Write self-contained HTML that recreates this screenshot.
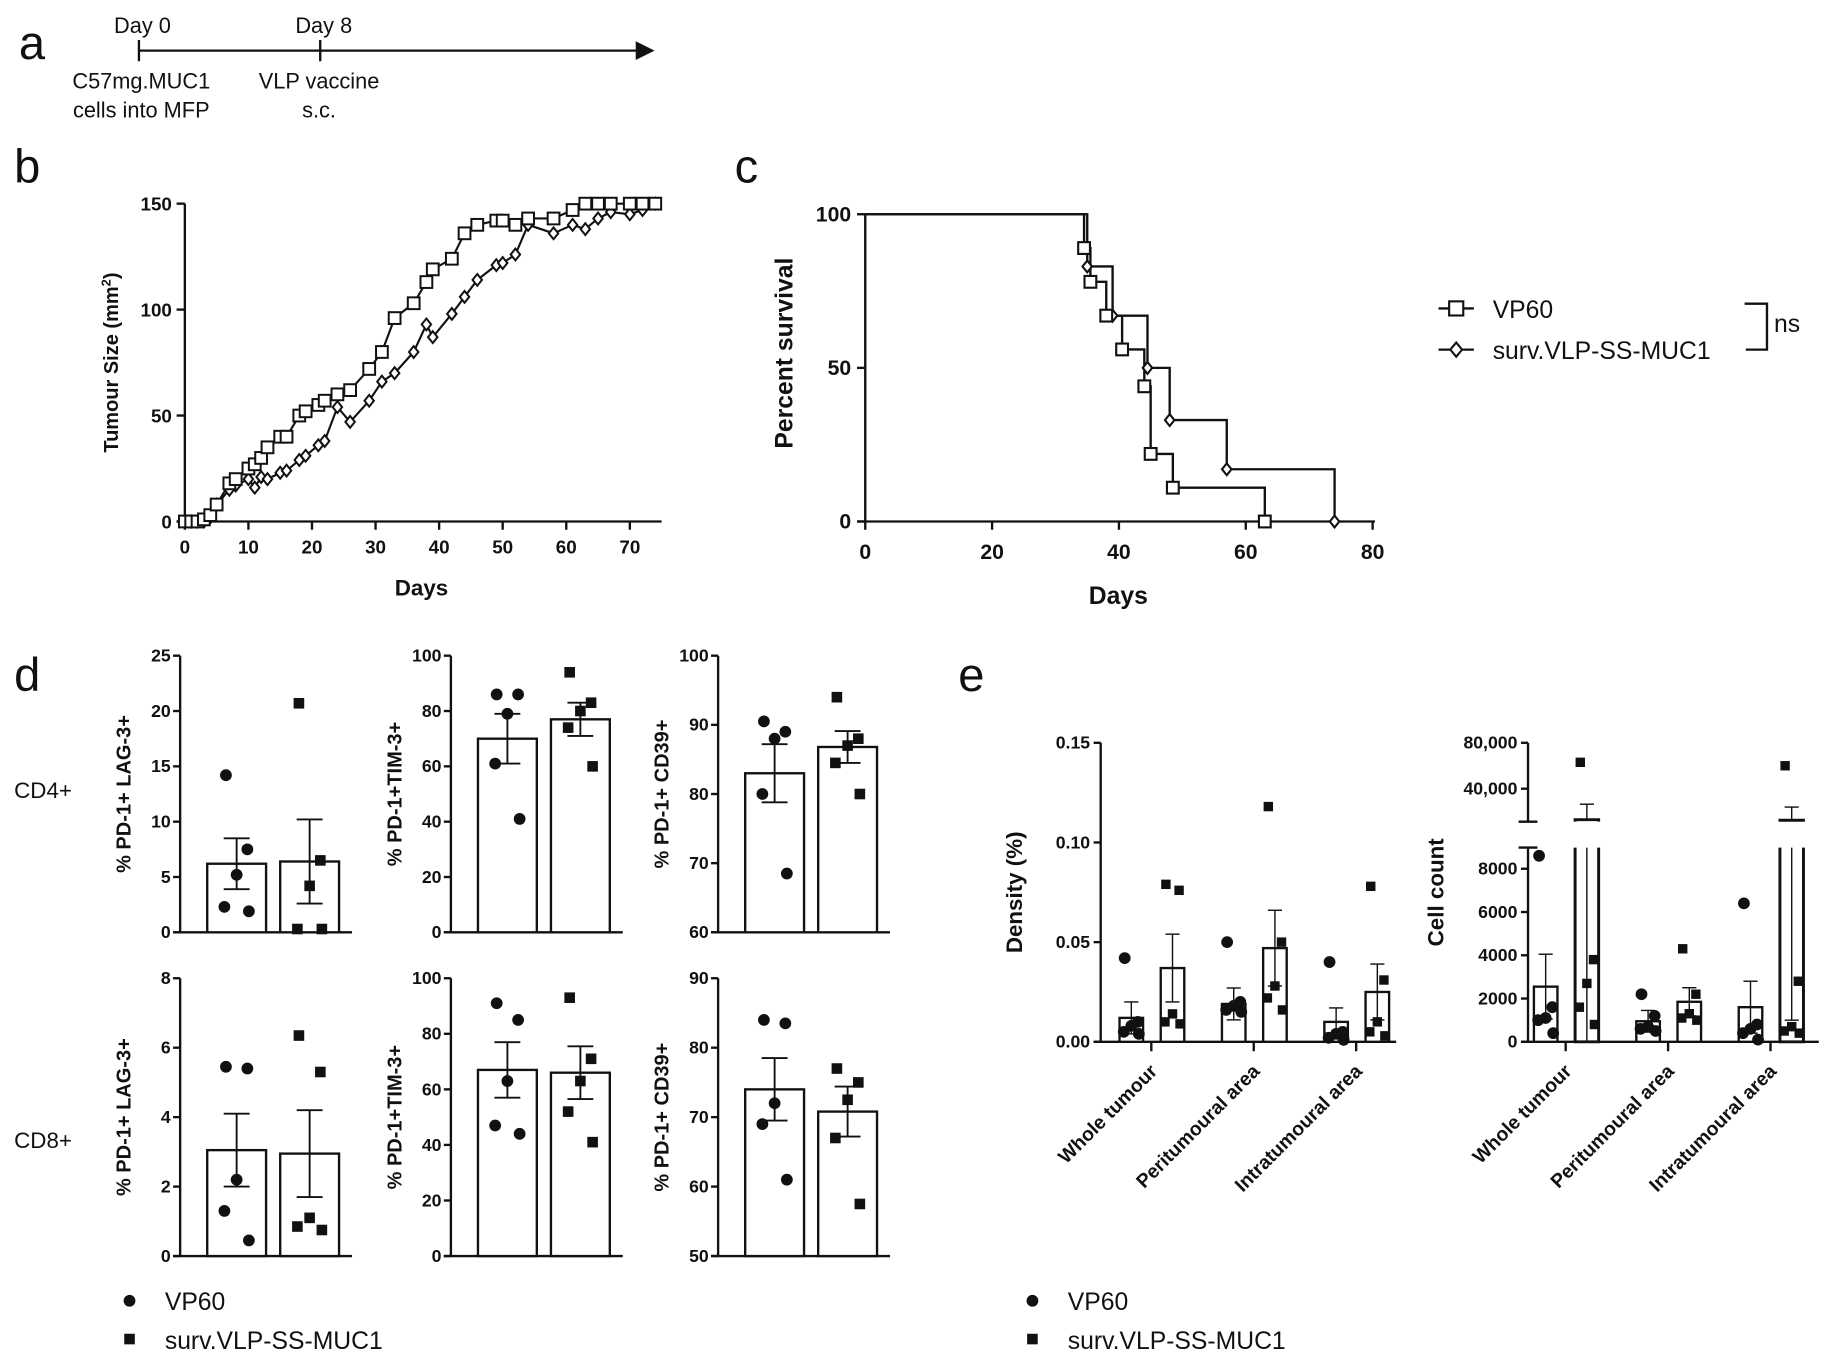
<!DOCTYPE html>
<html><head><meta charset="utf-8"><style>
html,body{margin:0;padding:0;background:#fff}
svg{display:block}
text{font-family:"Liberation Sans",Arial,sans-serif;fill:#111}
</style></head><body>
<svg id="fig" width="1840" height="1362" viewBox="0 0 1563 1157" xmlns="http://www.w3.org/2000/svg">
<g stroke="#111" stroke-width="2">
<line x1="118" y1="43" x2="542" y2="43"/>
<polygon points="540,35 556,43 540,51" fill="#111" stroke="none"/>
<line x1="118" y1="34" x2="118" y2="52"/><line x1="272" y1="34" x2="272" y2="52"/>
</g>
<g font-size="18.5" text-anchor="middle">
<text x="121" y="28">Day 0</text>
<text x="275" y="28">Day 8</text>
<text x="120" y="75">C57mg.MUC1</text>
<text x="120" y="100">cells into MFP</text>
<text x="271" y="75">VLP vaccine</text>
<text x="271" y="100">s.c.</text>
</g>
<g font-size="40">
<text x="16" y="50">a</text>
<text x="12" y="155">b</text>
<text x="624" y="155">c</text>
<text x="12" y="587">d</text>
<text x="814" y="587">e</text>
</g>
<g id="root"></g>
</svg>
<script>
// ---------- data ----------
const growthDays = [0,1,2,3,4,5,7,8,10,11,12,13,15,16,18,19,21,22,24,26,29,31,33,36,38,39,42,44,46,49,50,52,54,58,61,63,65,67,70,72,74];
const growthVP60 = [0,0,0,1,3,8,18,20,25,27,30,35,40,40,50,52,55,57,60,62,72,80,96,103,113,119,124,136,140,142,142,140,143,143,147,150,150,150,150,150,150];
const growthSurv = [0,0,0,0,2,8,15,17,20,16,21,20,23,24,29,31,36,38,54,47,57,66,70,80,93,87,98,106,114,121,122,126,140,136,140,138,143,146,145,147,150];
const growthTicksX = [0,10,20,30,40,50,60,70];
const growthTicksY = [0,50,100,150];

const survTimesVP = [0,34.5,35.5,38,40.5,44,45,48.5,63];
const survValsVP  = [100,89,78,67,56,44,22,11,0];
const survTimesSurv = [0,35,39,44.5,48,57,74];
const survValsSurv  = [100,83,67,50,33,17,0];
const survTicksX = [0,20,40,60,80];
const survTicksY = [0,50,100];

const dTitles = ["% PD-1+ LAG-3+","% PD-1+TIM-3+","% PD-1+ CD39+","% PD-1+ LAG-3+","% PD-1+TIM-3+","% PD-1+ CD39+"];
const dMin = [0,0,60,0,0,50];
const dMax = [25,100,100,8,100,90];
const dStep = [5,20,10,2,20,10];
const dMeanVP = [6.2,70,83,3.05,67,74];
const dSemVP = [2.3,9,4.2,1.05,10,4.5];
const dMeanSurv = [6.4,77,86.8,2.95,66,70.8];
const dSemSurv = [3.8,6,2.3,1.25,9.5,3.6];
const dPtsVP = [[14.2,7.5,5.2,2.3,1.9],[86,86,79,61,41],[90.5,89,88,80,68.5],[5.45,5.4,2.2,1.3,0.45],[91,85,63,47,44],[84,83.5,72,69,61]];
const dPtsSurv = [[20.7,6.5,4.2,0.3,0.3],[94,83,80,74,60],[94,88,87,84.5,80],[6.35,5.3,1.1,0.85,0.75],[93,71,63,52,41],[77,75,72.5,67,57.5]];

const eCats = ["Whole tumour","Peritumoural area","Intratumoural area"];
const densMeanVP = [0.012,0.019,0.010];
const densSemVP = [0.008,0.008,0.007];
const densMeanSurv = [0.037,0.047,0.025];
const densSemSurv = [0.017,0.019,0.014];
const densPtsVP = [[0.042,0.01,0.008,0.005,0.004],[0.050,0.02,0.018,0.016,0.015],[0.040,0.005,0.004,0.002,0.001]];
const densPtsSurv = [[0.079,0.076,0.014,0.01,0.009],[0.118,0.05,0.028,0.022,0.016],[0.078,0.031,0.01,0.005,0.003]];
const densTicks = ["0.00","0.05","0.10","0.15"];

const cntMeanVP = [2550,950,1600];
const cntSemVP = [1500,500,1200];
const cntMeanSurv = [13000,1850,12500];
const cntSemSurv = [13500,650,11500];
const cntPtsVP = [[8600,1600,1100,1000,400],[2200,1200,700,600,500],[6400,800,600,400,100]];
const cntPtsSurv = [[63000,3800,2700,1600,800],[4300,2200,1300,1100,1000],[60000,2800,700,500,400]];
const cntTicksLow = [0,2000,4000,6000,8000];
const cntTicksHigh = [40000,80000];

// ---------- helpers ----------
const NS="http://www.w3.org/2000/svg";
const root=document.getElementById('root');
function mk(tag,attrs,parent,txt){const e=document.createElementNS(NS,tag);for(const k in attrs)e.setAttribute(k,attrs[k]);if(txt!==undefined)e.textContent=txt;(parent||root).appendChild(e);return e;}
function line(x1,y1,x2,y2,p,w){return mk('line',{x1,y1,x2,y2,stroke:'#111','stroke-width':w||2},p);}
const jit=[-7,7,0,-8,8];

// ---------- panel b ----------
(function(){
 const g=mk('g',{});
 
 
 const X=d=>157+d*5.4, Y=v=>443-v*1.8;
 line(157,173,157,443,g);line(150,443,562,443,g);
 growthTicksY.forEach(v=>{line(150,Y(v),157,Y(v),g);const t=mk('text',{x:146,y:Y(v)+6,'text-anchor':'end','font-size':16,'font-weight':'bold'},g,v);});
 growthTicksX.forEach(v=>{line(X(v),443,X(v),450,g);const t=mk('text',{x:X(v),y:470,'text-anchor':'middle','font-size':16,'font-weight':'bold'},g,v);});
 const xt=mk('text',{x:358,y:506,'text-anchor':'middle','font-size':19,'font-weight':'bold'},g,'Days');
 
 const yt=mk('text',{transform:'translate(100,308) rotate(-90)','text-anchor':'middle','font-size':17,'font-weight':'bold'},g);
 
 yt.innerHTML='Tumour Size (mm<tspan dy="-6" font-size="11">2</tspan><tspan dy="6">)</tspan>';
 const ptsA=growthDays.map((d,i)=>X(d)+','+Y(growthVP60[i])).join(' ');
 const ptsB=growthDays.map((d,i)=>X(d)+','+Y(growthSurv[i])).join(' ');
 const l1=mk('polyline',{points:ptsB,fill:'none',stroke:'#111','stroke-width':1.8},g);
 
 const l2=mk('polyline',{points:ptsA,fill:'none',stroke:'#111','stroke-width':1.8},g);
 
 growthDays.forEach((d,i)=>{const x=X(d),y=Y(growthSurv[i]);const m=mk('polygon',{points:`${x},${y-5} ${x+4},${y} ${x},${y+5} ${x-4},${y}`,fill:'#fff',stroke:'#111','stroke-width':1.7},g);});
 growthDays.forEach((d,i)=>{const x=X(d),y=Y(growthVP60[i]);const m=mk('rect',{x:x-5,y:y-5,width:10,height:10,fill:'#fff',stroke:'#111','stroke-width':1.7},g);});
})();

// ---------- panel c ----------
(function(){
 const g=mk('g',{});
 
 
 const X=d=>735+d*5.3875, Y=v=>443-v*2.61;
 line(735,182,735,443,g);line(728,443,1168,443,g);
 survTicksY.forEach(v=>{line(728,Y(v),735,Y(v),g);const t=mk('text',{x:723,y:Y(v)+6,'text-anchor':'end','font-size':18,'font-weight':'bold'},g,v);});
 survTicksX.forEach(v=>{line(X(v),443,X(v),450,g);const t=mk('text',{x:X(v),y:475,'text-anchor':'middle','font-size':18,'font-weight':'bold'},g,v);});
 const xt=mk('text',{x:950,y:513,'text-anchor':'middle','font-size':21,'font-weight':'bold'},g,'Days');
 
 const yt=mk('text',{transform:'translate(673,300) rotate(-90)','text-anchor':'middle','font-size':21,'font-weight':'bold'},g,'Percent survival');
 
 function steps(T,V){let p=`${X(T[0])},${Y(V[0])}`;for(let i=1;i<T.length;i++){p+=` ${X(T[i])},${Y(V[i-1])} ${X(T[i])},${Y(V[i])}`;}return p;}
 const s2=mk('polyline',{points:steps(survTimesSurv,survValsSurv),fill:'none',stroke:'#111','stroke-width':2},g);
 
 const s1=mk('polyline',{points:steps(survTimesVP,survValsVP),fill:'none',stroke:'#111','stroke-width':2},g);
 
 for(let i=1;i<survTimesSurv.length;i++){const x=X(survTimesSurv[i]),y=Y(survValsSurv[i]);const m=mk('polygon',{points:`${x},${y-5} ${x+4},${y} ${x},${y+5} ${x-4},${y}`,fill:'#fff',stroke:'#111','stroke-width':1.8},g);}
 for(let i=1;i<survTimesVP.length;i++){const x=X(survTimesVP[i]),y=Y(survValsVP[i]);const m=mk('rect',{x:x-5,y:y-5,width:10,height:10,fill:'#fff',stroke:'#111','stroke-width':1.8},g);}
 const lg=mk('g',{},g);
 
 line(1222,262,1252,262,lg);mk('rect',{x:1231,y:256,width:12,height:12,fill:'#fff',stroke:'#111','stroke-width':1.8},lg);
 mk('text',{x:1268,y:270,'font-size':21},lg,'VP60');
 line(1222,297,1252,297,lg);mk('polygon',{points:'1237,291 1242,297 1237,303 1232,297',fill:'#fff',stroke:'#111','stroke-width':1.8},lg);
 mk('text',{x:1268,y:305,'font-size':21},lg,'surv.VLP-SS-MUC1');
 mk('polyline',{points:'1482,258 1501,258 1501,297 1483,297',fill:'none',stroke:'#111','stroke-width':2},lg);
 const ns=mk('text',{x:1507,y:282,'font-size':21},lg,'ns');
 
})();

// ---------- panel d ----------
(function(){
 const cols=[153,383,610], rows=[[792,557],[1067,831]];
 for(let k=0;k<6;k++){
  const ax=cols[k%3], [y0,y1]=rows[Math.floor(k/3)];
  const g=mk('g',{});
  
  
  const Y=v=>y0-(v-dMin[k])/(dMax[k]-dMin[k])*(y0-y1);
  line(ax,y1,ax,y0,g);line(ax-6,y0,ax+146,y0,g);
  for(let v=dMin[k];v<=dMax[k]+1e-9;v+=dStep[k]){line(ax-6,Y(v),ax,Y(v),g);const t=mk('text',{x:ax-8,y:Y(v)+5,'text-anchor':'end','font-size':15,'font-weight':'bold'},g,Math.round(v*100)/100);}
  const yt=mk('text',{transform:`translate(${ax-42},${(y0+y1)/2}) rotate(-90)`,'text-anchor':'middle','font-size':17,'font-weight':'bold'},g,dTitles[k]);
  
  const bx=[ax+23,ax+85];
  [[dMeanVP,dSemVP,dPtsVP,'vp60'],[dMeanSurv,dSemSurv,dPtsSurv,'surv']].forEach((s,j)=>{
   const m=s[0][k],se=s[1][k],x=bx[j],cx=x+25;
   const b=mk('rect',{x:x,y:Y(m),width:50,height:y0-Y(m),fill:'#fff',stroke:'#111','stroke-width':2},g);
   
   line(cx,Y(m+se),cx,Y(m-se),g,1.6);line(cx-11,Y(m+se),cx+11,Y(m+se),g,1.6);line(cx-11,Y(m-se),cx+11,Y(m-se),g,1.6);
   s[2][k].forEach((v,i)=>{const px=cx+jit[i]*1.3,py=Y(v);let p;
    if(j===0)p=mk('circle',{cx:px,cy:py,r:5,fill:'#111'},g);else p=mk('rect',{x:px-4.5,y:py-4.5,width:9,height:9,fill:'#111'},g);
    });
  });
 }
 const r1=mk('text',{x:12,y:678,'font-size':19},root,'CD4+');
 const r2=mk('text',{x:12,y:975,'font-size':19},root,'CD8+');
})();

// ---------- panel e ----------
const eGroupX=[978,1065,1152];
(function(){
 const g=mk('g',{});
 
 const ax=935,y0=885,Y=v=>y0-v/0.15*254;
 line(ax,631,ax,y0,g);line(ax-6,y0,1186,y0,g);
 densTicks.forEach(s=>{const v=parseFloat(s);line(ax-6,Y(v),ax,Y(v),g);const t=mk('text',{x:ax-9,y:Y(v)+5,'text-anchor':'end','font-size':15,'font-weight':'bold'},g,s);});
 const yt=mk('text',{transform:'translate(868,758) rotate(-90)','text-anchor':'middle','font-size':19,'font-weight':'bold'},g,'Density (%)');
 
 eCats.forEach((c,k)=>{const gx=eGroupX[k];line(gx,y0,gx,y0+8,g);
  const t=mk('text',{transform:`translate(${gx+6},${y0+26}) rotate(-45)`,'text-anchor':'end','font-size':16.5,'font-weight':'bold'},g,c);
  [[densMeanVP,densSemVP,densPtsVP,'vp60',-27],[densMeanSurv,densSemSurv,densPtsSurv,'surv',8]].forEach((s,j)=>{
   const m=s[0][k],se=s[1][k],x=gx+s[4],cx=x+10;
   const b=mk('rect',{x:x,y:Y(m),width:20,height:y0-Y(m),fill:'#fff',stroke:'#111','stroke-width':2},g);
   
   line(cx,Y(m+se),cx,Y(m-se),g,1.2);line(cx-6,Y(m+se),cx+6,Y(m+se),g,1.2);line(cx-6,Y(m-se),cx+6,Y(m-se),g,1.2);
   s[2][k].forEach((v,i)=>{const px=cx+jit[i]*0.8,py=Y(v);let p;
    if(j===0)p=mk('circle',{cx:px,cy:py,r:5,fill:'#111'},g);else p=mk('rect',{x:px-4,y:py-4,width:8,height:8,fill:'#111'},g);
    });
  });
 });
})();
(function(){
 const g=mk('g',{});
 
 const ax=1298,y0=885,off=1287-935;
 const YL=v=>y0-v*147/8000, YH=v=>670-(v-40000)*39/40000;
 const Y=v=>v<=9000?YL(v):YH(Math.max(v,11000));
 line(ax,720,ax,y0,g);line(ax,631,ax,698,g);
 line(ax-8,720,ax+8,720,g);line(ax-8,698,ax+8,698,g);
 line(ax-6,y0,1545,y0,g);
 cntTicksLow.forEach(v=>{line(ax-6,YL(v),ax,YL(v),g);const t=mk('text',{x:ax-9,y:YL(v)+5,'text-anchor':'end','font-size':15,'font-weight':'bold'},g,v);});
 cntTicksHigh.forEach(v=>{line(ax-6,YH(v),ax,YH(v),g);const t=mk('text',{x:ax-9,y:YH(v)+5,'text-anchor':'end','font-size':15,'font-weight':'bold'},g,v.toLocaleString('en-US'));});
 const yt=mk('text',{transform:'translate(1226,758) rotate(-90)','text-anchor':'middle','font-size':19,'font-weight':'bold'},g,'Cell count');
 
 eCats.forEach((c,k)=>{const gx=eGroupX[k]+off;line(gx,y0,gx,y0+8,g);
  const t=mk('text',{transform:`translate(${gx+6},${y0+26}) rotate(-45)`,'text-anchor':'end','font-size':16.5,'font-weight':'bold'},g,c);
  [[cntMeanVP,cntSemVP,cntPtsVP,'vp60',-27],[cntMeanSurv,cntSemSurv,cntPtsSurv,'surv',8]].forEach((s,j)=>{
   const m=s[0][k],se=s[1][k],x=gx+s[4],cx=x+10;
   if(m<=9000){const b=mk('rect',{x:x,y:YL(m),width:20,height:y0-YL(m),fill:'#fff',stroke:'#111','stroke-width':2},g);}
   else{const b=mk('polyline',{points:`${x},720 ${x},${y0} ${x+20},${y0} ${x+20},720`,fill:'none',stroke:'#111','stroke-width':2.5},g);
    const bt=mk('polyline',{points:`${x},698 ${x},${YH(m)} ${x+20},${YH(m)} ${x+20},698`,fill:'none',stroke:'#111','stroke-width':2.5},g);}
   const hi=m+se, lo=Math.max(0,m-se);
   if(m<=9000){line(cx,YL(hi),cx,YL(lo),g,1.2);line(cx-6,YL(hi),cx+6,YL(hi),g,1.2);line(cx-6,YL(lo),cx+6,YL(lo),g,1.2);}
   else{line(cx,YH(hi),cx,YH(m),g,1.2);line(cx-6,YH(hi),cx+6,YH(hi),g,1.2);line(cx,720,cx,YL(lo),g,1.2);line(cx-6,YL(lo),cx+6,YL(lo),g,1.2);}
   s[2][k].forEach((v,i)=>{const px=cx+jit[i]*0.8,py=Y(v);let p;
    if(j===0)p=mk('circle',{cx:px,cy:py,r:5,fill:'#111'},g);else p=mk('rect',{x:px-4,y:py-4,width:8,height:8,fill:'#111'},g);
    });
  });
 });
})();

// ---------- bottom legends ----------
[110,877].forEach(lx=>{
 const g=mk('g',{});
 
 mk('circle',{cx:lx,cy:1105,r:5,fill:'#111'},g);
 mk('text',{x:lx+30,y:1113,'font-size':21},g,'VP60');
 mk('rect',{x:lx-4.5,y:1133,width:9,height:9,fill:'#111'},g);
 mk('text',{x:lx+30,y:1146,'font-size':21},g,'surv.VLP-SS-MUC1');
});
</script>
</body></html>
